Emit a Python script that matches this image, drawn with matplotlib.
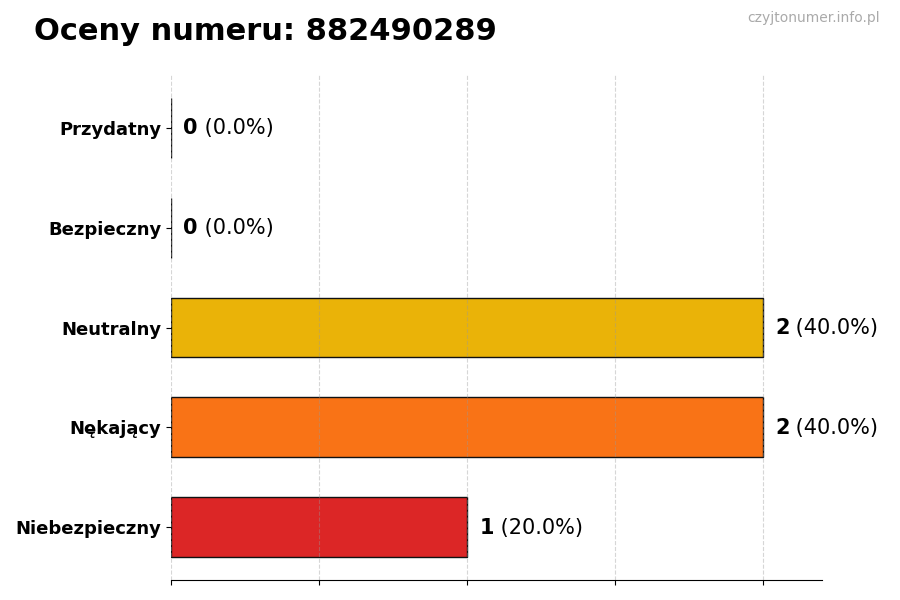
import matplotlib
matplotlib.use("Agg")
import matplotlib.pyplot as plt

categories = ["Niebezpieczny", "Nękający", "Neutralny", "Bezpieczny", "Przydatny"]
counts = [1, 2, 2, 0, 0]
colors = ["#dc2626", "#f97316", "#eab308", "#22c55e", "#16a34a"]
title = "Oceny numeru: 882490289"
watermark = "czyjtonumer.info.pl"

total = sum(counts)

fig = plt.figure(figsize=(9, 6), dpi=100)
ax = fig.add_axes([0.19, 0.0333, 0.723, 0.8417])

ypos = list(range(len(categories)))
ax.barh(ypos, counts, height=0.6, color=colors, edgecolor="#111111", linewidth=1)

ax.set_xlim(0, 2.2)
ax.set_xticks([0, 0.5, 1, 1.5, 2])
ax.set_xticklabels([])
ax.set_yticks(ypos)
ax.set_yticklabels(categories, fontsize=13, fontweight="bold")
ax.grid(axis="x", linestyle="--", color="#999999", alpha=0.4, linewidth=0.8)
for s in ["top", "right", "left"]:
    ax.spines[s].set_visible(False)

for y, c in zip(ypos, counts):
    pct = 100.0 * c / total if total else 0
    x0 = c + 0.042
    t = ax.text(x0, y - 0.005, f"{c}", fontsize=15, fontweight="bold", va="center", ha="left")
    fig.canvas.draw()
    bb = t.get_window_extent()
    inv = ax.transData.inverted()
    xe = inv.transform((bb.x1, 0))[0]
    ax.text(xe, y - 0.005, f" ({pct:.1f}%)", fontsize=15, va="center", ha="left")

fig.text(0.038, 0.948, title, fontsize=22, fontweight="bold", ha="left", va="center")
fig.text(0.978, 0.970, watermark, fontsize=10, color="#aaaaaa", ha="right", va="center")

fig.savefig("out.png", dpi=100)
